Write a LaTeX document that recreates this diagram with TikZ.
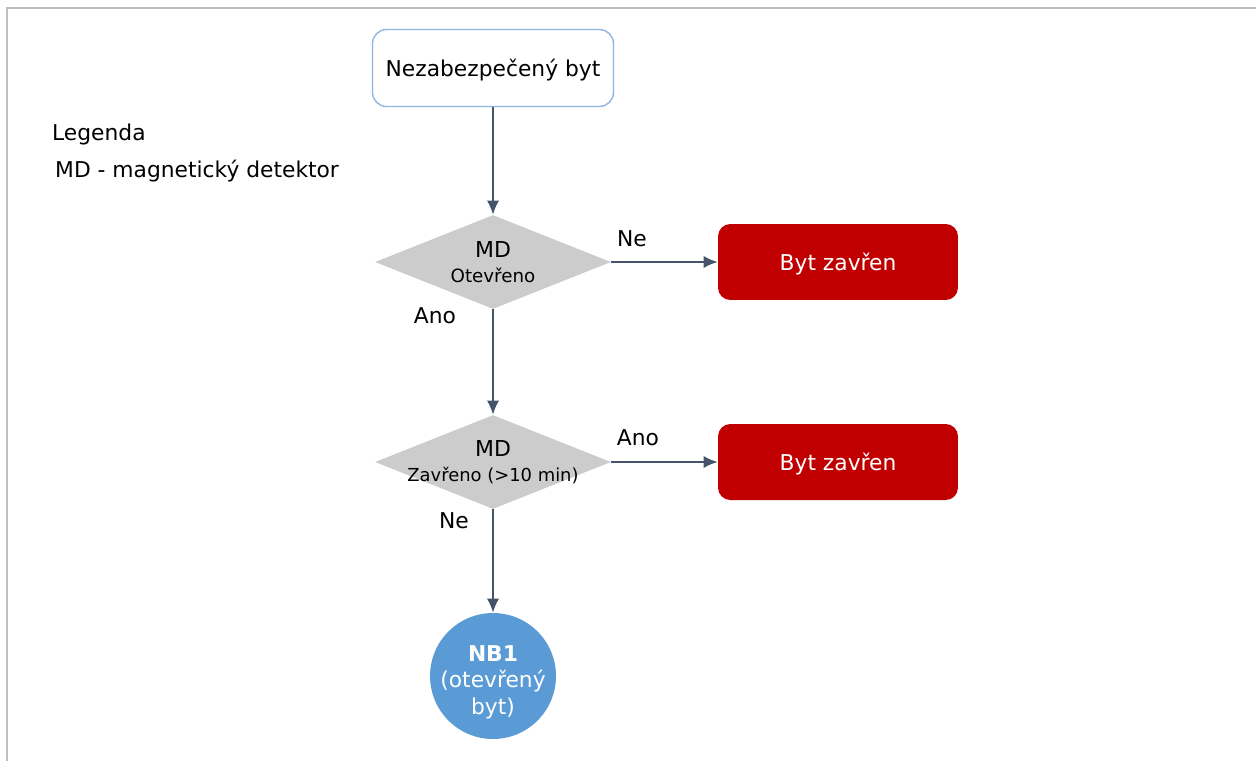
\documentclass[tikz,border=0pt]{standalone}
\usepackage{fontspec}
\setmainfont{DejaVu Sans}
\usetikzlibrary{arrows.meta,shapes.geometric}

\definecolor{flowline}{HTML}{44546A}
\definecolor{startblue}{HTML}{8FB4E3}
\definecolor{closedred}{HTML}{C00000}
\definecolor{testgray}{HTML}{CCCCCC}
\definecolor{stateblue}{HTML}{5B9BD5}
\definecolor{framegray}{HTML}{BFBFBF}

\begin{document}
\begin{tikzpicture}[x=0.02cm,y=-0.02cm,
    every node/.style={font=\fontsize{12.4}{15}\selectfont},
    startbox/.style={draw=startblue,line width=0.8pt,fill=white,rounded corners=8pt,text depth=0pt,minimum width=4.82cm,minimum height=1.54cm},
    closedbox/.style={fill=closedred,text=white,rounded corners=7pt,text depth=0pt,minimum width=4.8cm,minimum height=1.52cm},
    mdtest/.style={diamond,fill=testgray,inner sep=0pt,minimum width=4.72cm,minimum height=1.88cm},
    statecircle/.style={circle,fill=stateblue,minimum size=2.52cm,inner sep=0pt},
    flow/.style={draw=flowline,line width=1.1pt,-{Latex[length=8pt,width=7pt]}}]
  \useasboundingbox (0,0) rectangle (1256,761);
  \draw[framegray,line width=1pt] (7,761) -- (7,8) -- (1256,8);

  \node[anchor=west] (legenda) at (46,134) {Legenda};
  \node[anchor=west] (legendmd) at (49,171) {MD - magnetický detektor};

  \node[startbox] (start) at (493,68) {Nezabezpečený byt};
  \node[mdtest,label={[align=center]center:{\fontsize{12.5}{14}\selectfont MD\\[-1pt]\fontsize{10.4}{12}\selectfont Otevřeno}}] (otevreno) at (493,262) {};
  \node[closedbox] (zavren1) at (838,262) {Byt zavřen};
  \node[mdtest,label={[align=center]center:{\fontsize{12.5}{14}\selectfont MD\\[-1pt]\fontsize{10.2}{12}\selectfont Zavřeno (>10 min)}}] (zavreno) at (493,462) {};
  \node[closedbox] (zavren2) at (838,462) {Byt zavřen};
  \node[statecircle,label={[align=center,text=white,yshift=-0.12cm]center:{\textbf{NB1}\\(otevřený\\byt)}}] (nb1) at (493,676) {};

  \node (ne1) at (632,239) {Ne};
  \node (ano1) at (435,316) {Ano};
  \node (ano2) at (638,438) {Ano};
  \node (ne2) at (454,521) {Ne};

  \draw[flow] (start) -- (otevreno);
  \draw[flow] (otevreno) -- (zavren1);
  \draw[flow] (otevreno) -- (zavreno);
  \draw[flow] (zavreno) -- (zavren2);
  \draw[flow] (zavreno) -- (nb1);
\end{tikzpicture}
\end{document}
